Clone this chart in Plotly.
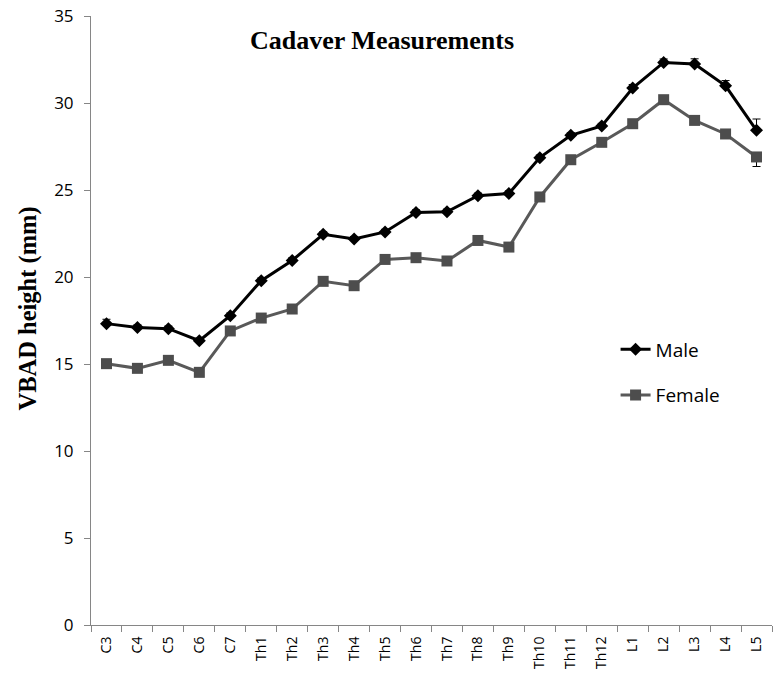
import plotly.graph_objects as go

categories = ["C3", "C4", "C5", "C6", "C7", "Th1", "Th2", "Th3", "Th4", "Th5", "Th6",
              "Th7", "Th8", "Th9", "Th10", "Th11", "Th12", "L1", "L2", "L3", "L4", "L5"]
male = [17.32, 17.10, 17.03, 16.34, 17.78, 19.79, 20.95, 22.45, 22.18, 22.59, 23.71,
        23.75, 24.67, 24.80, 26.86, 28.14, 28.68, 30.86, 32.33, 32.24, 30.99, 28.43]
female = [15.02, 14.75, 15.21, 14.52, 16.90, 17.64, 18.16, 19.75, 19.50, 21.01, 21.11,
          20.92, 22.10, 21.72, 24.60, 26.74, 27.74, 28.81, 30.19, 29.00, 28.22, 26.90]
male_err = [0.25, 0.15, 0.15, 0.15, 0.15, 0.15, 0.15, 0.15, 0.15, 0.15, 0.15,
            0.15, 0.15, 0.15, 0.15, 0.15, 0.15, 0.2, 0.2, 0.3, 0.3, 0.65]
female_err = [0.15, 0.15, 0.15, 0.15, 0.15, 0.15, 0.15, 0.15, 0.15, 0.15, 0.15,
              0.15, 0.15, 0.15, 0.15, 0.15, 0.15, 0.2, 0.2, 0.2, 0.25, 0.55]
y_ticks = [0, 5, 10, 15, 20, 25, 30, 35]

W, H = 783, 681
L, R, T, B = 91, 11, 16, 56
PW, PH = W - L - R, H - T - B

fig = go.Figure()
fig.add_trace(go.Scatter(
    x=categories, y=male, name="Male", mode="lines+markers",
    legendgroup="m",
    line=dict(color="#000000", width=3),
    marker=dict(symbol="diamond", size=10, color="#000000"),
    error_y=dict(type="data", array=male_err, arrayminus=[0]*len(male_err),
                 symmetric=False, color="#000000", thickness=1, width=4),
))
fig.add_trace(go.Scatter(
    x=categories, y=female, name="Female", mode="lines+markers",
    legendgroup="f",
    line=dict(color="#595959", width=3),
    marker=dict(symbol="square", size=11, color="#4d4d4d"),
    error_y=dict(type="data", array=[0]*len(female_err), arrayminus=female_err,
                 symmetric=False, color="#000000", thickness=1, width=4),
))

fig.update_layout(
    width=W, height=H,
    margin=dict(l=L, r=R, t=T, b=B),
    plot_bgcolor="white", paper_bgcolor="white",
    showlegend=True,
    legend=dict(x=0.7703, y=0.4836, xanchor="left", yanchor="top",
                font=dict(family="Open Sans", size=19, color="#000000"),
                tracegroupgap=18, bgcolor="rgba(0,0,0,0)", itemwidth=30),
    xaxis=dict(
        type="category", range=[-0.5, 21.5], automargin=False,
        showline=True, linecolor="#868686", linewidth=1,
        ticks="outside", tickson="boundaries", ticklen=6, tickcolor="#868686",
        ticklabelstandoff=5,
        tickangle=-90, tickfont=dict(family="Open Sans", size=14, color="#000000"),
        showgrid=False, zeroline=False,
    ),
    yaxis=dict(
        range=[0, 35], tickvals=y_ticks, automargin=False,
        showline=True, linecolor="#868686", linewidth=1,
        ticks="outside", ticklen=6, tickcolor="#868686",
        ticklabelstandoff=7,
        tickfont=dict(family="Open Sans", size=17, color="#000000"),
        showgrid=False, zeroline=False,
    ),
    annotations=[
        dict(text="<b>Cadaver Measurements</b>", xref="paper", yref="paper",
             x=(382 - L) / PW, y=1 - (41 - T) / PH, xanchor="center", yanchor="middle",
             showarrow=False,
             font=dict(family="Liberation Serif", size=26, color="#000000")),
        dict(text="<b>VBAD height (mm)</b>", xref="paper", yref="paper",
             x=(27.5 - L) / PW, y=1 - (309 - T) / PH, xanchor="center", yanchor="middle",
             textangle=-90, showarrow=False,
             font=dict(family="Liberation Serif", size=24.5, color="#000000")),
    ],
)

fig.write_html("out.html", config={"displayModeBar": False},
               post_script="document.body.style.margin='0';")
